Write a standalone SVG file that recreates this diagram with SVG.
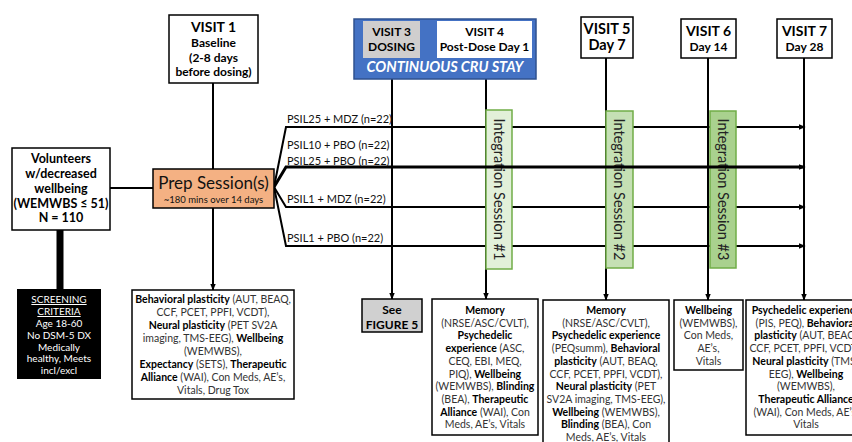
<svg xmlns="http://www.w3.org/2000/svg" width="852" height="442" viewBox="0 0 852 442">
<defs>
<marker id="ah" viewBox="0 0 10 10" refX="9" refY="5" markerWidth="7" markerHeight="7" orient="auto" markerUnits="userSpaceOnUse"><path d="M0,1 L10,5 L0,9 z" fill="#000"/></marker>
</defs>
<style>
text{font-family:Lato,"Liberation Sans",sans-serif;}
.b{font-weight:bold;fill:#000}
.box{fill:#fff;stroke:#000;stroke-width:1.5}
.ln{stroke:#000;stroke-width:2;fill:none}
.arr{stroke:#000;stroke-width:2;fill:none;marker-end:url(#ah)}
.hd{font-size:14px;font-weight:bold;text-anchor:middle;fill:#000}
.sub{font-size:12px;font-weight:bold;text-anchor:middle;fill:#000}
.body{font-size:10.5px;text-anchor:middle;fill:#333}
.lbl{font-size:11px;fill:#111}
.integ{stroke:#70ad47;stroke-width:1.5}
.itx{font-size:14.5px;fill:#222;text-anchor:middle;dominant-baseline:central}
</style>

<g id="connectors">
<line class="arr" x1="213" y1="83" x2="213" y2="290"/>
<line class="arr" x1="392" y1="79" x2="392" y2="299"/>
<line class="arr" x1="486" y1="79" x2="486" y2="299"/>
<line class="arr" x1="606" y1="58" x2="606" y2="300"/>
<line class="arr" x1="708" y1="58" x2="708" y2="300"/>
<line class="arr" x1="804" y1="58" x2="804" y2="300"/>
<line class="ln" x1="110" y1="188" x2="153" y2="188"/>
<line x1="60" y1="230" x2="60" y2="289" stroke="#000" stroke-width="7"/>
<polyline class="arr" points="274,187 286,127 805,127"/>
<polyline class="arr" points="274,187 286,207 805,207"/>
<polyline class="arr" points="274,187 286,246 805,246"/>
</g>

<g id="integration1"><rect class="integ" x="486" y="110" width="26" height="159" fill="#e2f0d9"/><text class="itx" transform="translate(499,189.5) rotate(90)">Integration Session #1</text></g>
<g id="integration2"><rect class="integ" x="606" y="111" width="27" height="157" fill="#c5e0b4"/><text class="itx" transform="translate(619.5,189.5) rotate(90)">Integration Session #2</text></g>
<g id="integration3"><rect class="integ" x="710" y="111" width="26" height="157" fill="#a9d18e"/><text class="itx" transform="translate(723,189.5) rotate(90)">Integration Session #3</text></g>

<g id="connector-psil25pbo">
<polyline points="274,187 286,167 805,167" stroke="#000" stroke-width="3" fill="none" marker-end="url(#ah)"/>
</g>

<g id="labels">
<text class="lbl" x="287" y="123">PSIL25 + MDZ (n=22)</text>
<text class="lbl" x="287" y="149">PSIL10 + PBO (n=22)</text>
<text class="lbl" x="287" y="165">PSIL25 + PBO (n=22)</text>
<text class="lbl" x="287" y="203">PSIL1 + MDZ (n=22)</text>
<text class="lbl" x="287" y="242">PSIL1 + PBO (n=22)</text>
</g>

<g id="visit1">
<rect class="box" x="169" y="15" width="89" height="68"/>
<text class="hd" x="213.5" y="32">VISIT 1</text>
<text class="sub" x="213.5" y="47">Baseline</text>
<text class="sub" x="213.5" y="61.5">(2-8 days</text>
<text class="sub" x="213.5" y="76">before dosing)</text>
</g>

<g id="cru">
<rect x="354" y="19" width="182" height="60" fill="#4472c4" stroke="#2f528f" stroke-width="1.5"/>
<rect x="363" y="21" width="57" height="37" fill="#d0cece"/>
<rect x="437" y="21" width="95" height="37" fill="#fff"/>
<text class="sub" x="391.5" y="35.5">VISIT 3</text>
<text class="sub" x="391.5" y="51">DOSING</text>
<text class="sub" x="484.5" y="35.5">VISIT 4</text>
<text class="sub" x="484.5" y="51">Post-Dose Day 1</text>
<text x="445" y="72" text-anchor="middle" fill="#fff" font-weight="bold" font-style="italic" font-size="14.5">CONTINUOUS CRU STAY</text>
</g>

<g id="visit5">
<rect class="box" x="581" y="17" width="52" height="41"/>
<text class="hd" x="607" y="34" style="font-size:14.5px">VISIT 5</text>
<text class="hd" x="607" y="50" style="font-size:14.5px">Day 7</text>
</g>
<g id="visit6">
<rect class="box" x="681" y="19" width="55" height="39"/>
<text class="hd" x="708.5" y="36">VISIT 6</text>
<text class="sub" x="708.5" y="51">Day 14</text>
</g>
<g id="visit7">
<rect class="box" x="777" y="19" width="55" height="39"/>
<text class="hd" x="804.5" y="36">VISIT 7</text>
<text class="sub" x="804.5" y="51">Day 28</text>
</g>

<g id="volunteers">
<rect class="box" x="12" y="148" width="98" height="82"/>
<text class="sub" x="61" y="163" style="font-size:12.5px">Volunteers</text>
<text class="sub" x="61" y="178" style="font-size:12.5px">w/decreased</text>
<text class="sub" x="61" y="193" style="font-size:12.5px">wellbeing</text>
<text class="sub" x="61" y="208" style="font-size:12.5px">(WEMWBS ≤ 51)</text>
<text class="sub" x="61" y="222" style="font-size:12.5px">N = 110</text>
</g>

<g id="prep">
<rect x="153" y="169" width="121" height="39" fill="#f4b183" stroke="#000" stroke-width="1.5"/>
<text x="213.5" y="189" text-anchor="middle" font-size="17" fill="#111">Prep Session(s)</text>
<text x="213.5" y="203" text-anchor="middle" font-size="9.5" fill="#111">~180 mins over 14 days</text>
</g>

<g id="screening">
<rect x="17" y="289" width="84" height="90" fill="#000"/>
<g fill="#fff" font-size="10" text-anchor="middle">
<text x="59" y="303" text-decoration="underline" fill="#fff">SCREENING </text>
<text x="59" y="315" text-decoration="underline" fill="#fff">CRITERIA</text>
<text x="59" y="327" fill="#fff">Age 18-60</text>
<text x="59" y="338.5" fill="#fff">No DSM-5 DX</text>
<text x="59" y="350.5" fill="#fff">Medically</text>
<text x="59" y="362" fill="#fff">healthy, Meets</text>
<text x="59" y="373.5" fill="#fff">incl/excl</text>
</g>
</g>

<g id="v1measures">
<rect class="box" x="132" y="290" width="162" height="109"/>
<text class="body" x="213" y="303"><tspan class="b">Behavioral plasticity</tspan> (AUT, BEAQ,</text>
<text class="body" x="213" y="316">CCF, PCET, PPFI, VCDT),</text>
<text class="body" x="213" y="329"><tspan class="b">Neural plasticity</tspan> (PET SV2A</text>
<text class="body" x="213" y="342">imaging, TMS-EEG), <tspan class="b">Wellbeing</tspan></text>
<text class="body" x="213" y="355">(WEMWBS),</text>
<text class="body" x="213" y="368"><tspan class="b">Expectancy</tspan> (SETS), <tspan class="b">Therapeutic</tspan></text>
<text class="body" x="213" y="381"><tspan class="b">Alliance</tspan> (WAI), Con Meds, AE’s,</text>
<text class="body" x="213" y="394">Vitals, Drug Tox</text>
</g>

<g id="fig5">
<rect x="362" y="299" width="60" height="33" fill="#d0d0d0" stroke="#000" stroke-width="1.5"/>
<text class="sub" x="392" y="314">See</text>
<text class="sub" x="392" y="329">FIGURE 5</text>
</g>

<g id="v4measures">
<rect class="box" x="432" y="299" width="106" height="136"/>
<text class="body" x="485" y="314"><tspan class="b">Memory</tspan></text>
<text class="body" x="485" y="326.7">(NRSE/ASC/CVLT),</text>
<text class="body" x="485" y="339.4"><tspan class="b">Psychedelic</tspan></text>
<text class="body" x="485" y="352.1"><tspan class="b">experience</tspan> (ASC,</text>
<text class="body" x="485" y="364.8">CEQ, EBI, MEQ,</text>
<text class="body" x="485" y="377.5">PIQ), <tspan class="b">Wellbeing</tspan></text>
<text class="body" x="485" y="390.2">(WEMWBS), <tspan class="b">Blinding</tspan></text>
<text class="body" x="485" y="402.9">(BEA), <tspan class="b">Therapeutic</tspan></text>
<text class="body" x="485" y="415.6"><tspan class="b">Alliance</tspan> (WAI), Con</text>
<text class="body" x="485" y="428.3">Meds, AE’s, Vitals</text>
</g>

<g id="v5measures">
<rect class="box" x="543" y="300" width="126" height="150"/>
<text class="body" x="606" y="314"><tspan class="b">Memory</tspan></text>
<text class="body" x="606" y="326.7">(NRSE/ASC/CVLT),</text>
<text class="body" x="606" y="339.4"><tspan class="b">Psychedelic experience</tspan></text>
<text class="body" x="606" y="352.1">(PEQsumm), <tspan class="b">Behavioral</tspan></text>
<text class="body" x="606" y="364.8"><tspan class="b">plasticity</tspan> (AUT, BEAQ,</text>
<text class="body" x="606" y="377.5">CCF, PCET, PPFI, VCDT),</text>
<text class="body" x="606" y="390.2"><tspan class="b">Neural plasticity</tspan> (PET</text>
<text class="body" x="606" y="402.9">SV2A imaging, TMS-EEG),</text>
<text class="body" x="606" y="415.6"><tspan class="b">Wellbeing</tspan> (WEMWBS),</text>
<text class="body" x="606" y="428.3"><tspan class="b">Blinding</tspan> (BEA), Con</text>
<text class="body" x="606" y="441">Meds, AE’s, Vitals</text>
</g>

<g id="v6measures">
<rect class="box" x="674" y="300" width="69" height="70"/>
<text class="body" x="708.5" y="314"><tspan class="b">Wellbeing</tspan></text>
<text class="body" x="708.5" y="326.7">(WEMWBS),</text>
<text class="body" x="708.5" y="339.4">Con Meds,</text>
<text class="body" x="708.5" y="352.1">AE’s,</text>
<text class="body" x="708.5" y="364.8">Vitals</text>
</g>

<g id="v7measures">
<rect class="box" x="746" y="300" width="120" height="135"/>
<text class="body" x="806" y="314"><tspan class="b">Psychedelic experience</tspan></text>
<text class="body" x="806" y="326.7">(PIS, PEQ),  <tspan class="b">Behavioral</tspan></text>
<text class="body" x="806" y="339.4"><tspan class="b">plasticity</tspan> (AUT, BEAQ,</text>
<text class="body" x="806" y="352.1">CCF, PCET, PPFI, VCDT),</text>
<text class="body" x="806" y="364.8"><tspan class="b">Neural plasticity</tspan> (TMS-</text>
<text class="body" x="806" y="377.5">EEG), <tspan class="b">Wellbeing</tspan></text>
<text class="body" x="806" y="390.2">(WEMWBS),</text>
<text class="body" x="806" y="402.9"><tspan class="b">Therapeutic Alliance</tspan></text>
<text class="body" x="806" y="415.6">(WAI), Con Meds, AE’s,</text>
<text class="body" x="806" y="428.3">Vitals</text>
</g>
</svg>
